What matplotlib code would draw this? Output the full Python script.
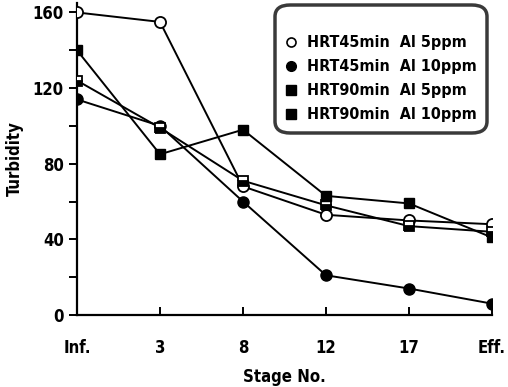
import matplotlib
matplotlib.use('Agg')
import matplotlib.pyplot as plt
from matplotlib.lines import Line2D
from matplotlib.patches import FancyBboxPatch
from matplotlib.ticker import MultipleLocator

plt.rcParams['font.family'] = ['DejaVu Sans']
plt.rcParams['font.stretch'] = 'condensed'
plt.rcParams['font.weight'] = 'bold'
plt.rcParams['axes.labelweight'] = 'bold'

stages = ['Inf.', '3', '8', '12', '17', 'Eff.']
hrt45_al5 = [160, 155, 68, 53, 50, 48]
hrt45_al10 = [114, 100, 60, 21, 14, 6]
hrt90_al5 = [124, 99, 71, 58, 47, 44]
hrt90_al10 = [140, 85, 98, 63, 59, 41]
labels = ['HRT45min  Al 5ppm', 'HRT45min  Al 10ppm',
          'HRT90min  Al 5ppm', 'HRT90min  Al 10ppm']

fig = plt.figure(figsize=(5.08, 3.87), dpi=100)
ax = fig.add_axes([77/508, 72/387, 415/508, 312/387])
x = range(len(stages))

lw = 1.4
ax.plot(x, hrt45_al5, '-o', color='black', lw=lw, ms=8, mfc='white', mew=1.3, zorder=3)
ax.plot(x, hrt45_al10, '-o', color='black', lw=lw, ms=8, zorder=3)
ax.plot(x, hrt90_al5, '-s', color='black', lw=lw, ms=7.5, fillstyle='bottom',
        markerfacecoloralt='white', mew=1.3, zorder=3)
ax.plot(x, hrt90_al10, '-s', color='black', lw=lw, ms=7.5, zorder=3)

ax.set_xlim(0, 5)
ax.set_ylim(0, 165)
ax.set_xticks(list(x))
ax.set_xticklabels(stages)
ax.set_yticks([0, 40, 80, 120, 160])
ax.yaxis.set_minor_locator(MultipleLocator(20))
ax.spines['top'].set_visible(False)
ax.spines['right'].set_visible(False)
for s in ('left', 'bottom'):
    ax.spines[s].set_linewidth(1.6)
ax.tick_params(axis='x', direction='in', length=6, width=1.4, pad=17, labelsize=12)
ax.tick_params(axis='y', which='both', direction='out', length=5.5, width=1.4, pad=4, labelsize=12)
ax.set_xlabel('Stage No.', fontsize=12, labelpad=8)
ax.set_ylabel('Turbidity', fontsize=12, labelpad=6)

# legend box with rounded border
box = FancyBboxPatch((275/508, (387-133)/387), 212/508, 128/387,
                     boxstyle='round,pad=0,rounding_size=0.03',
                     transform=fig.transFigure, fc='white', ec='#3a3a3a', lw=2.5,
                     zorder=5)
fig.add_artist(box)
handles = [
    Line2D([], [], ls='', marker='o', ms=6.5, color='black', mfc='white', mew=1.2),
    Line2D([], [], ls='', marker='o', ms=7, color='black'),
    Line2D([], [], ls='', marker='s', ms=6.5, color='black'),
    Line2D([], [], ls='', marker='s', ms=6.5, color='black'),
]
leg = fig.legend(handles, labels, loc='upper left',
                 bbox_to_anchor=(280/508, (387-29)/387), frameon=False,
                 prop={'size': 11.5, 'weight': 'bold', 'stretch': 'condensed'},
                 handlelength=0.6, handletextpad=0.7, labelspacing=0.56,
                 borderaxespad=0)
leg.set_zorder(6)

fig.savefig('out.png', dpi=100)
